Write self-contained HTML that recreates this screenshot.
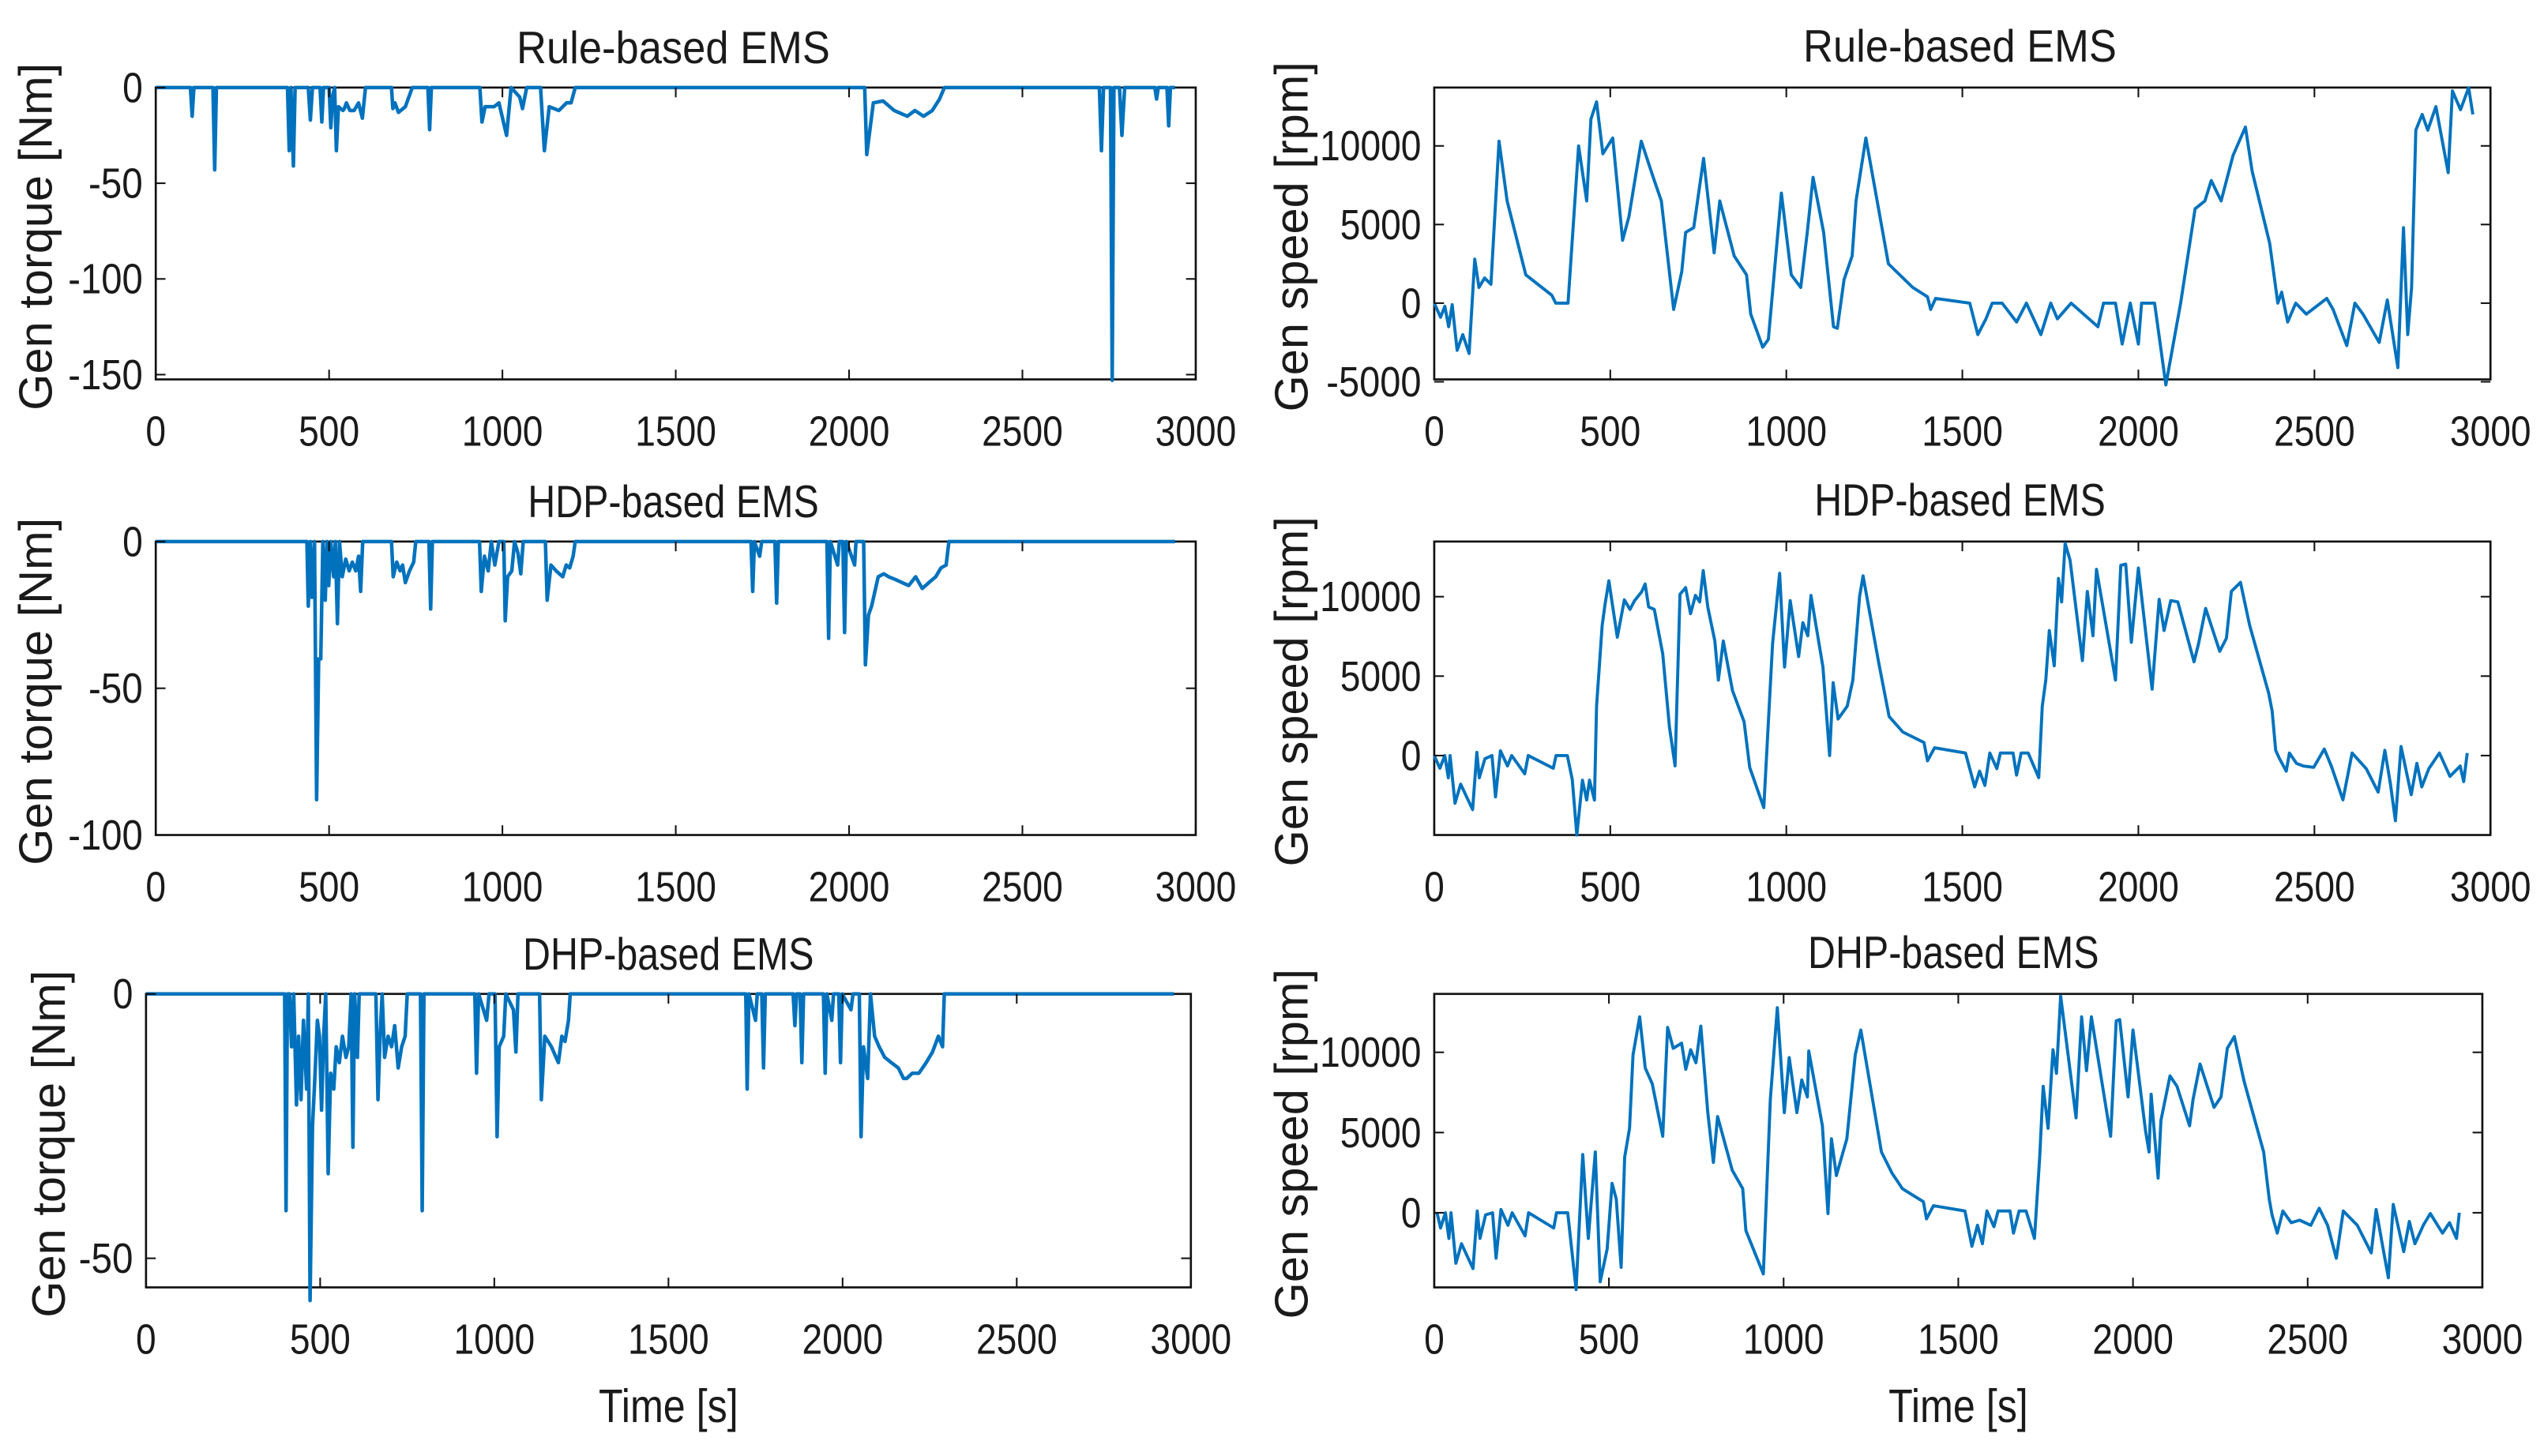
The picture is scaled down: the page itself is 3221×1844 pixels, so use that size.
<!DOCTYPE html>
<html><head><meta charset="utf-8"><style>
html,body{margin:0;padding:0;background:#fff;}
svg{display:block;}
text{font-family:"Liberation Sans",Arial,sans-serif;fill:#1a1a1a;}
</style></head><body>
<svg id="fig" width="3221" height="1844" viewBox="0 0 1568 898" preserveAspectRatio="none" xmlns="http://www.w3.org/2000/svg"></svg>
<script>
const xTicks=[0,500,1000,1500,2000,2500,3000];
const torqueTicksRule=[0,-50,-100,-150];
const torqueTicksHdp=[0,-50,-100];
const torqueTicksDhp=[0,-50];
const speedTicks=[-5000,0,5000,10000];
const speedTicksNoNeg=[0,5000,10000];

const ruleTorque=[[0,0],[100,0],[105,-15],[110,0],[165,0],[170,-43],[175,0],[380,0],[385,-33],[390,0],[397,-41],[402,0],[440,0],[446,-17],[452,0],[474,0],[479,-18],[484,0],[500,0],[505,-21],[510,-5],[516,0],[521,-33],[527,-10],[540,-12],[544,-11],[550,-8],[560,-12],[572,-12],[585,-8],[596,-16],[605,0],[680,0],[684,-11],[690,-8],[700,-13],[720,-10],[740,0],[785,0],[790,-22],[795,0],[935,0],[941,-18],[950,-10],[976,-10],[990,-8],[1012,-25],[1025,0],[1050,-5],[1058,-11],[1070,0],[1110,0],[1121,-33],[1135,-10],[1163,-12],[1185,-8],[1198,-8],[1210,0],[2045,0],[2051,-35],[2070,-8],[2098,-7],[2130,-12],[2168,-15],[2190,-12],[2215,-15],[2240,-12],[2261,-6],[2275,0],[2722,0],[2728,-33],[2734,0],[2754,0],[2759,-153],[2764,0],[2780,0],[2787,-25],[2795,0],[2882,0],[2887,-6],[2892,0],[2917,0],[2922,-20],[2927,0],[2940,0]];

const hdpTorque=[[0,0],[436,0],[440,-22],[446,0],[450,-19],[458,0],[464,-88],[470,-40],[476,-40],[482,0],[489,-20],[494,0],[499,-15],[505,0],[513,-12],[518,0],[524,-28],[530,0],[538,-12],[548,-6],[558,-10],[567,-7],[577,-10],[585,-5],[591,-17],[597,0],[680,0],[685,-12],[695,-7],[705,-10],[712,-8],[720,-14],[732,-10],[744,-7],[750,0],[788,0],[793,-23],[798,0],[934,0],[939,-17],[948,-5],[959,-10],[968,0],[978,-8],[990,0],[1004,0],[1008,-27],[1015,-12],[1027,-10],[1035,0],[1045,-4],[1053,-11],[1060,0],[1124,0],[1129,-20],[1140,-8],[1155,-10],[1174,-12],[1184,-8],[1194,-9],[1204,-5],[1210,0],[1717,0],[1722,-17],[1727,0],[1742,-5],[1748,0],[1786,0],[1791,-21],[1796,0],[1936,0],[1941,-33],[1946,0],[1967,-8],[1972,0],[1982,0],[1987,-31],[1992,0],[2016,-8],[2020,0],[2042,0],[2047,-42],[2056,-25],[2065,-22],[2084,-12],[2100,-11],[2114,-12],[2135,-13],[2153,-14],[2172,-15],[2192,-12],[2211,-16],[2230,-14],[2250,-12],[2265,-9],[2280,-8],[2288,0],[2940,0]];

const dhpTorque=[[0,0],[398,0],[402,-41],[406,0],[412,0],[418,-10],[424,0],[432,-21],[438,-8],[445,-20],[452,-5],[461,-18],[466,0],[471,-58],[478,-25],[484,-17],[492,-5],[498,-8],[504,-22],[510,-8],[516,0],[523,-34],[530,-15],[539,-18],[546,-10],[555,-13],[564,-8],[574,-12],[582,-10],[589,0],[594,-29],[599,0],[607,-12],[612,0],[660,0],[666,-20],[672,-8],[678,0],[685,-12],[695,-8],[705,-10],[714,-6],[724,-14],[734,-10],[744,-8],[750,0],[788,0],[793,-41],[798,0],[944,0],[949,-15],[955,0],[978,-5],[985,0],[1002,0],[1008,-27],[1014,-10],[1027,-8],[1033,0],[1055,-3],[1062,-11],[1068,0],[1130,0],[1135,-20],[1145,-8],[1164,-10],[1184,-13],[1194,-8],[1203,-9],[1213,-5],[1218,0],[1722,0],[1726,-18],[1731,0],[1750,-5],[1755,0],[1768,0],[1773,-14],[1778,0],[1858,0],[1863,-6],[1868,0],[1878,0],[1883,-13],[1888,0],[1945,0],[1950,-15],[1955,0],[1969,-5],[1974,0],[1989,0],[1994,-13],[1999,0],[2024,-3],[2030,0],[2048,0],[2053,-27],[2060,-10],[2072,-16],[2080,0],[2092,-8],[2105,-10],[2121,-12],[2140,-13],[2160,-14],[2175,-16],[2184,-16],[2200,-15],[2219,-15],[2240,-13],[2258,-11],[2275,-8],[2287,-10],[2292,0],[2951,0]];

const ruleSpeed=[[0,0],[18,-900],[30,-200],[41,-1500],[51,-100],[65,-3000],[81,-2000],[99,-3200],[115,2800],[127,1000],[143,1600],[161,1200],[184,10300],[207,6500],[260,1800],[334,500],[345,0],[380,0],[410,10000],[433,6500],[445,11700],[461,12800],[479,9500],[507,10500],[535,4000],[553,5500],[588,10300],[622,8000],[645,6500],[680,-400],[703,2000],[714,4500],[737,4800],[765,9200],[795,3200],[811,6500],[852,3000],[887,1800],[899,-700],[933,-2800],[949,-2300],[986,7000],[1014,1800],[1041,1000],[1060,4600],[1076,8000],[1106,4500],[1134,-1500],[1145,-1600],[1164,1500],[1187,3000],[1198,6500],[1226,10500],[1290,2500],[1313,2000],[1359,1000],[1401,400],[1410,-400],[1424,300],[1521,0],[1544,-2000],[1567,-1000],[1585,0],[1613,0],[1654,-1200],[1682,0],[1723,-2000],[1751,0],[1770,-1000],[1809,0],[1885,-1500],[1901,0],[1935,0],[1954,-2600],[1977,0],[2000,-2600],[2009,0],[2046,0],[2078,-5200],[2120,0],[2161,6000],[2189,6500],[2207,7800],[2235,6500],[2269,9400],[2304,11200],[2323,8400],[2373,3800],[2396,0],[2407,700],[2424,-1200],[2447,0],[2477,-700],[2535,300],[2553,-400],[2592,-2700],[2615,0],[2638,-700],[2684,-2500],[2707,200],[2737,-4100],[2753,4800],[2765,-2000],[2776,1000],[2788,11000],[2806,12000],[2822,11000],[2845,12500],[2880,8300],[2892,13500],[2915,12300],[2938,13700],[2950,12000]];

const hdpSpeed=[[0,0],[16,-800],[30,0],[40,-1400],[45,0],[59,-3000],[75,-1800],[109,-3400],[121,200],[128,-1400],[144,-200],[164,0],[174,-2600],[188,300],[208,-650],[220,0],[257,-1150],[267,0],[338,-800],[346,0],[378,0],[392,-1500],[405,-5000],[421,-1550],[433,-2800],[441,-1550],[455,-2800],[461,3100],[477,8200],[485,9500],[496,11000],[504,9800],[520,7450],[540,9800],[556,9200],[569,9750],[589,10300],[599,10800],[609,9350],[625,9200],[649,6400],[668,1800],[684,-650],[698,10150],[714,10570],[728,8930],[742,10080],[754,9670],[764,11640],[777,9340],[797,7210],[807,4750],[821,7210],[847,4100],[880,2130],[896,-740],[936,-3280],[961,7050],[981,11470],[995,5570],[1011,9750],[1035,6230],[1047,8360],[1061,7540],[1070,10080],[1104,5570],[1123,0],[1133,4590],[1147,2300],[1173,3110],[1189,4750],[1208,10000],[1218,11310],[1262,5900],[1292,2460],[1331,1480],[1391,820],[1401,-330],[1421,490],[1509,160],[1535,-1970],[1549,-980],[1564,-1880],[1578,160],[1598,-820],[1608,160],[1644,160],[1654,-1230],[1667,160],[1687,160],[1717,-1390],[1727,3110],[1737,4750],[1747,7870],[1761,5650],[1773,11150],[1782,9670],[1792,13360],[1806,12290],[1841,5980],[1855,10330],[1871,7540],[1881,11720],[1935,4750],[1950,11970],[1964,12050],[1980,7130],[2000,11800],[2039,4180],[2059,9830],[2073,7870],[2092,9750],[2112,9670],[2158,5900],[2171,7050],[2191,9260],[2231,6560],[2250,7380],[2264,10330],[2290,10900],[2316,8200],[2370,3930],[2380,2790],[2390,330],[2400,-160],[2420,-980],[2429,160],[2449,-490],[2469,-660],[2498,-740],[2528,410],[2548,-660],[2581,-2790],[2607,160],[2647,-820],[2681,-2300],[2700,330],[2716,-1800],[2730,-4100],[2746,570],[2775,-2460],[2791,-490],[2805,-1970],[2825,-820],[2855,160],[2885,-1310],[2914,-660],[2924,-1640],[2934,160]];

const dhpSpeed=[[8,0],[18,-950],[32,0],[42,-1600],[48,0],[62,-3150],[78,-1930],[111,-3480],[123,110],[131,-1600],[147,-130],[167,0],[177,-2830],[191,200],[211,-780],[223,0],[260,-1440],[270,0],[342,-950],[350,0],[382,0],[406,-4790],[425,3630],[441,-1600],[461,3790],[475,-4300],[495,-2250],[509,1830],[521,850],[535,-3400],[545,3460],[559,5260],[569,9840],[588,12210],[604,9020],[624,8040],[654,4770],[668,11550],[684,10250],[708,10570],[720,8940],[734,10160],[749,9350],[763,11630],[783,6240],[799,3140],[811,6000],[853,2650],[883,1500],[892,-1110],[942,-3810],[962,7060],[982,12780],[1002,6240],[1016,9670],[1038,6240],[1052,8280],[1068,7220],[1072,10080],[1111,5420],[1127,-50],[1137,4610],[1151,2320],[1181,4610],[1205,9840],[1221,11390],[1280,3790],[1310,2480],[1340,1500],[1400,690],[1409,-380],[1429,440],[1519,110],[1539,-2090],[1555,-780],[1569,-1930],[1582,110],[1602,-870],[1614,110],[1648,110],[1658,-1270],[1674,110],[1694,110],[1718,-1600],[1733,3460],[1743,7880],[1757,5260],[1771,10160],[1781,8690],[1793,13510],[1837,5920],[1853,12210],[1867,8860],[1881,12210],[1936,4770],[1952,11960],[1962,12040],[1986,7220],[2000,11390],[2036,5100],[2046,3790],[2052,7390],[2072,2160],[2080,5750],[2106,8530],[2126,7880],[2162,5420],[2172,7060],[2192,9270],[2232,6570],[2252,7220],[2270,10250],[2290,10980],[2318,8200],[2374,3790],[2390,850],[2398,-130],[2413,-1270],[2429,110],[2453,-620],[2477,-460],[2509,-780],[2533,280],[2557,-780],[2582,-2830],[2602,110],[2642,-780],[2682,-2500],[2696,200],[2712,-1760],[2731,-4050],[2745,520],[2775,-2420],[2791,-540],[2807,-1930],[2831,-780],[2851,-50],[2886,-1270],[2906,-620],[2926,-1600],[2934,0]];

const NS="http://www.w3.org/2000/svg";
const svg=document.getElementById('fig');
function mk(tag,attrs,parent){const e=document.createElementNS(NS,tag);for(const k in attrs)e.setAttribute(k,attrs[k]);(parent||svg).appendChild(e);return e;}

const panels=[
 {id:'rule-torque',title:'Rule-based EMS',ylab:'Gen torque [Nm]',x0:96,x1:737,y0:54,y1:234,ymin:-152.5,ymax:0,yt:torqueTicksRule,data:ruleTorque,tx:415,ty:39,lx:22,xl:null,tw:true},
 {id:'rule-speed',title:'Rule-based EMS',ylab:'Gen speed [rpm]',x0:884,x1:1535,y0:54,y1:234,ymin:-4850,ymax:13710,yt:speedTicks,data:ruleSpeed,tx:1208,ty:38,lx:796,xl:null},
 {id:'hdp-torque',title:'HDP-based EMS',ylab:'Gen torque [Nm]',x0:96,x1:737,y0:334,y1:515,ymin:-100,ymax:0,yt:torqueTicksHdp,data:hdpTorque,tx:415,ty:319,lx:22,xl:null,tw:true},
 {id:'hdp-speed',title:'HDP-based EMS',ylab:'Gen speed [rpm]',x0:884,x1:1535,y0:334,y1:515,ymin:-5000,ymax:13470,yt:speedTicksNoNeg,data:hdpSpeed,tx:1208,ty:318,lx:796,xl:null},
 {id:'dhp-torque',title:'DHP-based EMS',ylab:'Gen torque [Nm]',x0:90,x1:734,y0:613,y1:794,ymin:-55.5,ymax:0,yt:torqueTicksDhp,data:dhpTorque,tx:412,ty:598,lx:30,xl:'Time [s]',tw:true},
 {id:'dhp-speed',title:'DHP-based EMS',ylab:'Gen speed [rpm]',x0:884,x1:1530,y0:613,y1:794,ymin:-4650,ymax:13640,yt:speedTicksNoNeg,data:dhpSpeed,tx:1204,ty:597,lx:796,xl:'Time [s]'}
];

panels.forEach(p=>{
 const g=mk('g',{});
 
 
 const X=t=>p.x0+(t-0)/(3000)*(p.x1-p.x0);
 const Y=v=>p.y1-(v-p.ymin)/(p.ymax-p.ymin)*(p.y1-p.y0);
 const bx=mk('rect',{x:p.x0,y:p.y0,width:p.x1-p.x0,height:p.y1-p.y0,fill:'none',stroke:'#111','stroke-width':1.3},g);
 
 
 const pts=p.data.map(d=>X(d[0]).toFixed(2)+','+Y(d[1]).toFixed(2)).join(' ');
 const ln=mk('polyline',{points:pts,fill:'none',stroke:'#0072BD','stroke-width':p.tw?2.2:1.9,'stroke-linejoin':'round'},g);
 
 
 xTicks.forEach(t=>{
  const x=X(t);
  mk('line',{x1:x,x2:x,y1:p.y1,y2:p.y1-6,stroke:'#111','stroke-width':1},g);
  mk('line',{x1:x,x2:x,y1:p.y0,y2:p.y0+6,stroke:'#111','stroke-width':1},g);
  const tl=mk('text',{x:x,y:p.y1+41,'text-anchor':'middle','font-size':26,textLength:String(t).length*12.5,lengthAdjust:'spacingAndGlyphs'},g);
  tl.textContent=t;
  
  
 });
 p.yt.forEach(v=>{
  const y=Y(v);
  mk('line',{x1:p.x0,x2:p.x0+6,y1:y,y2:y,stroke:'#111','stroke-width':1},g);
  mk('line',{x1:p.x1,x2:p.x1-6,y1:y,y2:y,stroke:'#111','stroke-width':1},g);
  const s=String(v);
  const tl=mk('text',{x:p.x0-8,y:y+9,'text-anchor':'end','font-size':26,textLength:s.length*12.5-(v<0?4:0),lengthAdjust:'spacingAndGlyphs'},g);
  tl.textContent=s;
  
  
 });
 const tt=mk('text',{x:p.tx,y:p.ty,'text-anchor':'middle','font-size':28,textLength:p.title.length*13.8,lengthAdjust:'spacingAndGlyphs'},g);
 tt.textContent=p.title;
 
 
 const cy=(p.y0+p.y1)/2+2;
 const yl=mk('text',{x:p.lx,y:cy,'text-anchor':'middle','font-size':29,transform:'rotate(-90 '+p.lx+' '+cy+') translate(0 10)'},g);
 yl.textContent=p.ylab;
 
 
 if(p.xl){
  const xc=(p.x0+p.x1)/2;
  const xl=mk('text',{x:xc,y:877,'text-anchor':'middle','font-size':29,textLength:86,lengthAdjust:'spacingAndGlyphs'},g);
  xl.textContent=p.xl;
  
  
 }
});
</script>
</body></html>
